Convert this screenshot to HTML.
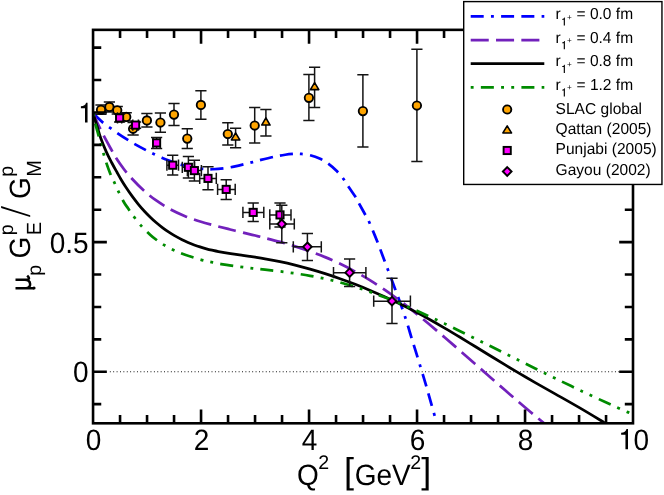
<!DOCTYPE html>
<html><head><meta charset="utf-8"><title>chart</title>
<style>html,body{margin:0;padding:0;background:#fff;}body{width:664px;height:495px;overflow:hidden;position:relative;font-family:"Liberation Sans",sans-serif;}</style></head>
<body>
<svg width="664" height="495" viewBox="0 0 664 495" style="position:absolute;left:0;top:0;will-change:transform">
<rect x="0" y="0" width="664" height="495" fill="#fff"/>
<defs><clipPath id="pc"><rect x="93.05" y="29.85" width="539.95" height="393.45"/></clipPath></defs>
<line x1="109.85" y1="371.75" x2="633.00" y2="371.75" stroke="#000" stroke-width="1" stroke-dasharray="0.9 2.49"/>
<g clip-path="url(#pc)" fill="none" stroke-linecap="butt" stroke-linejoin="round">
<path d="M93.05 112.80 C93.88 113.67 96.29 116.32 98.00 118.00 C99.71 119.68 101.27 121.26 103.30 122.90 C105.33 124.54 107.87 126.17 110.20 127.86 C112.53 129.55 114.27 130.97 117.30 133.04 C120.33 135.11 125.63 138.55 128.40 140.31 C131.17 142.07 130.92 141.93 133.90 143.60 C136.88 145.27 143.00 148.61 146.30 150.35 C149.60 152.09 151.27 152.86 153.70 154.02 C156.13 155.18 158.48 156.26 160.90 157.31 C163.32 158.36 164.72 159.05 168.20 160.32 C171.68 161.59 177.33 163.65 181.80 164.92 C186.27 166.19 191.13 167.23 195.00 167.92 C198.87 168.61 202.08 168.86 205.00 169.08 C207.92 169.30 209.37 169.37 212.50 169.25 C215.63 169.13 220.03 168.83 223.80 168.35 C227.57 167.87 231.55 167.10 235.10 166.38 C238.65 165.66 242.17 164.76 245.10 164.04 C248.03 163.32 250.07 162.77 252.70 162.08 C255.33 161.39 257.17 160.84 260.90 159.92 C264.63 158.99 271.05 157.39 275.10 156.53 C279.15 155.67 281.85 155.19 285.20 154.74 C288.55 154.29 292.50 153.98 295.20 153.85 C297.90 153.72 298.90 153.72 301.40 153.96 C303.90 154.20 307.07 154.45 310.20 155.27 C313.33 156.09 317.28 157.52 320.20 158.86 C323.12 160.20 324.98 161.32 327.70 163.32 C330.42 165.32 333.85 168.22 336.50 170.85 C339.15 173.48 341.60 176.46 343.60 179.10 C345.60 181.74 346.37 183.50 348.50 186.70 C350.63 189.90 354.63 195.48 356.40 198.30 C358.17 201.12 357.50 200.65 359.10 203.60 C360.70 206.55 364.27 212.82 366.00 216.00 C367.73 219.18 367.55 218.27 369.50 222.70 C371.45 227.13 375.08 235.95 377.70 242.60 C380.32 249.25 382.70 255.93 385.20 262.60 C387.70 269.27 390.20 275.92 392.70 282.60 C395.20 289.28 397.93 296.37 400.20 302.70 C402.47 309.03 404.45 314.87 406.30 320.60 C408.15 326.33 409.63 331.68 411.30 337.10 C412.97 342.52 414.63 347.68 416.30 353.10 C417.97 358.52 419.63 364.08 421.30 369.60 C422.97 375.12 424.63 380.48 426.30 386.20 C427.97 391.92 429.52 397.60 431.30 403.90 C433.08 410.20 436.05 420.65 437.00 424.00" stroke="#0000ff" stroke-width="2.75" stroke-dasharray="13.00 7.25 2.90 7.25 13.00 7.25" stroke-dashoffset="-1.30"/>
<path d="M93.05 112.80 C93.71 114.33 95.26 118.25 97.00 122.00 C98.74 125.75 101.07 130.60 103.50 135.30 C105.93 140.00 109.60 146.57 111.60 150.20 C113.60 153.83 113.47 153.97 115.50 157.10 C117.53 160.23 121.17 165.51 123.80 169.00 C126.43 172.49 127.97 174.44 131.30 178.04 C134.63 181.64 139.83 186.97 143.80 190.59 C147.77 194.21 150.72 196.64 155.10 199.74 C159.48 202.84 165.10 206.43 170.10 209.17 C175.10 211.91 180.08 214.11 185.10 216.16 C190.12 218.21 195.18 219.87 200.20 221.45 C205.22 223.03 210.20 224.32 215.20 225.66 C220.20 227.00 225.20 228.22 230.20 229.46 C235.20 230.70 241.03 232.09 245.20 233.10 C249.37 234.11 251.90 234.72 255.20 235.53 C258.50 236.34 260.87 236.90 265.00 237.97 C269.13 239.04 274.98 240.53 280.00 241.93 C285.02 243.33 290.08 244.78 295.10 246.35 C300.12 247.92 305.10 249.55 310.10 251.35 C315.10 253.15 320.10 255.05 325.10 257.13 C330.10 259.21 335.08 261.44 340.10 263.85 C345.12 266.26 350.18 268.86 355.20 271.61 C360.22 274.36 365.20 277.26 370.20 280.35 C375.20 283.44 380.20 286.70 385.20 290.14 C390.20 293.58 395.22 297.23 400.20 300.98 C405.18 304.73 410.12 308.62 415.10 312.62 C420.08 316.62 425.10 320.79 430.10 324.98 C435.10 329.17 440.10 333.47 445.10 337.77 C450.10 342.07 455.08 346.42 460.10 350.80 C465.12 355.18 470.18 359.64 475.20 364.04 C480.22 368.44 485.20 372.83 490.20 377.21 C495.20 381.59 500.20 385.97 505.20 390.31 C510.20 394.65 513.97 397.97 520.20 403.26 C526.43 408.55 538.30 418.47 542.60 422.07 C546.90 425.67 545.43 424.39 546.00 424.86" stroke="#7221bc" stroke-width="2.75" stroke-dasharray="18.05 7.27" stroke-dashoffset="0.00"/>
<path d="M93.05 112.80 C93.38 113.92 94.33 117.27 95.00 119.50 C95.67 121.73 96.15 123.12 97.10 126.20 C98.05 129.28 99.18 133.77 100.70 138.00 C102.22 142.23 104.38 147.52 106.20 151.60 C108.02 155.68 109.78 159.02 111.60 162.50 C113.42 165.98 115.50 169.63 117.10 172.50 C118.70 175.37 119.70 177.20 121.20 179.69 C122.70 182.18 124.28 184.72 126.10 187.46 C127.92 190.20 130.08 193.36 132.10 196.12 C134.12 198.88 136.18 201.55 138.20 204.02 C140.22 206.49 142.18 208.76 144.20 210.96 C146.22 213.16 148.27 215.27 150.30 217.24 C152.33 219.21 154.38 221.07 156.40 222.80 C158.42 224.53 160.38 226.10 162.40 227.63 C164.42 229.16 166.48 230.61 168.50 231.95 C170.52 233.29 172.23 234.38 174.50 235.68 C176.77 236.98 179.85 238.63 182.10 239.76 C184.35 240.89 185.98 241.61 188.00 242.47 C190.02 243.33 192.20 244.20 194.20 244.94 C196.20 245.68 197.97 246.28 200.00 246.92 C202.03 247.56 204.40 248.25 206.40 248.80 C208.40 249.35 209.98 249.73 212.00 250.20 C214.02 250.66 215.40 251.01 218.50 251.59 C221.60 252.17 226.57 253.03 230.60 253.67 C234.63 254.30 239.47 254.94 242.70 255.40 C245.93 255.86 247.92 256.12 250.00 256.42 C252.08 256.72 252.70 256.79 255.20 257.18 C257.70 257.57 260.87 258.04 265.00 258.79 C269.13 259.54 274.98 260.63 280.00 261.70 C285.02 262.76 290.08 263.94 295.10 265.18 C300.12 266.42 305.10 267.74 310.10 269.16 C315.10 270.58 320.10 272.09 325.10 273.68 C330.10 275.27 335.08 276.95 340.10 278.72 C345.12 280.49 350.18 282.37 355.20 284.32 C360.22 286.27 365.20 288.29 370.20 290.40 C375.20 292.51 380.20 294.71 385.20 296.99 C390.20 299.27 395.22 301.65 400.20 304.09 C405.18 306.53 410.12 309.04 415.10 311.65 C420.08 314.26 425.10 316.97 430.10 319.75 C435.10 322.53 440.10 325.41 445.10 328.33 C450.10 331.25 455.08 334.24 460.10 337.27 C465.12 340.30 470.18 343.42 475.20 346.49 C480.22 349.56 485.20 352.65 490.20 355.72 C495.20 358.79 500.20 361.87 505.20 364.90 C510.20 367.93 515.20 370.94 520.20 373.88 C525.20 376.82 529.38 379.24 535.20 382.57 C541.02 385.90 547.60 389.58 555.10 393.84 C562.60 398.10 572.07 403.40 580.20 408.15 C588.33 412.90 599.27 419.56 603.90 422.35 C608.53 425.15 607.32 424.49 608.00 424.92" stroke="#000000" stroke-width="2.75"/>
<path d="M93.05 112.80 C93.42 114.58 94.39 119.75 95.30 123.50 C96.21 127.25 97.60 131.97 98.50 135.30 C99.40 138.63 99.87 140.47 100.70 143.50 C101.53 146.53 102.58 150.33 103.50 153.50 C104.42 156.67 105.08 159.17 106.20 162.50 C107.32 165.83 108.83 170.15 110.20 173.50 C111.57 176.85 113.02 179.58 114.40 182.60 C115.78 185.62 116.93 188.37 118.50 191.60 C120.07 194.83 122.22 199.22 123.80 202.00 C125.38 204.78 126.53 206.10 128.00 208.27 C129.47 210.44 130.38 212.08 132.60 215.01 C134.82 217.94 138.38 222.57 141.30 225.84 C144.22 229.11 147.60 232.32 150.10 234.64 C152.60 236.95 154.00 238.02 156.30 239.73 C158.60 241.44 160.97 243.15 163.90 244.90 C166.83 246.65 170.37 248.60 173.90 250.25 C177.43 251.90 180.72 253.27 185.10 254.81 C189.48 256.35 195.60 258.23 200.20 259.50 C204.80 260.77 208.32 261.53 212.70 262.43 C217.08 263.33 221.92 264.18 226.50 264.91 C231.08 265.64 235.83 266.25 240.20 266.82 C244.57 267.38 248.57 267.82 252.70 268.30 C256.83 268.78 260.45 269.15 265.00 269.67 C269.55 270.19 274.98 270.79 280.00 271.41 C285.02 272.03 290.08 272.67 295.10 273.40 C300.12 274.13 305.10 274.90 310.10 275.79 C315.10 276.68 320.10 277.65 325.10 278.76 C330.10 279.87 335.08 281.11 340.10 282.47 C345.12 283.83 350.18 285.32 355.20 286.90 C360.22 288.47 365.20 290.15 370.20 291.92 C375.20 293.69 380.20 295.56 385.20 297.50 C390.20 299.44 395.22 301.48 400.20 303.56 C405.18 305.64 410.12 307.78 415.10 309.99 C420.08 312.20 425.10 314.49 430.10 316.80 C435.10 319.11 440.10 321.48 445.10 323.87 C450.10 326.26 455.08 328.69 460.10 331.15 C465.12 333.60 470.18 336.12 475.20 338.60 C480.22 341.09 485.20 343.57 490.20 346.06 C495.20 348.55 500.20 351.06 505.20 353.55 C510.20 356.05 515.20 358.54 520.20 361.03 C525.20 363.52 529.38 365.61 535.20 368.49 C541.02 371.37 547.60 374.64 555.10 378.29 C562.60 381.94 571.85 386.44 580.20 390.40 C588.55 394.36 598.95 399.18 605.20 402.07 C611.45 404.96 613.95 406.04 617.70 407.72 C621.45 409.40 625.15 411.01 627.70 412.13 C630.25 413.25 632.12 414.05 633.00 414.43" stroke="#008b00" stroke-width="2.75" stroke-dasharray="2.90 7.25 13.00 7.25 2.90 7.25" stroke-dashoffset="-0.90"/>
</g>
<g fill="none" stroke="#141414" stroke-width="1.50">
<path d="M101.00 104.90 V114.25 M95.40 104.90 H106.60 M95.40 114.25 H106.60" />
<path d="M109.40 101.90 V111.90 M103.80 101.90 H115.00 M103.80 111.90 H115.00" />
<path d="M117.25 106.50 V114.00 M111.65 106.50 H122.85 M111.65 114.00 H122.85" />
<path d="M126.25 112.75 V121.00 M120.65 112.75 H131.85 M120.65 121.00 H131.85" />
<path d="M133.10 122.50 V135.00 M127.50 122.50 H138.70 M127.50 135.00 H138.70" />
<path d="M146.90 113.50 V126.90 M141.30 113.50 H152.50 M141.30 126.90 H152.50" />
<path d="M160.40 112.90 V132.25 M154.80 112.90 H166.00 M154.80 132.25 H166.00" />
<path d="M174.00 103.40 V125.60 M168.40 103.40 H179.60 M168.40 125.60 H179.60" />
<path d="M187.25 128.75 V148.40 M181.65 128.75 H192.85 M181.65 148.40 H192.85" />
<path d="M200.90 90.80 V119.30 M195.30 90.80 H206.50 M195.30 119.30 H206.50" />
<path d="M227.80 122.80 V144.90 M222.20 122.80 H233.40 M222.20 144.90 H233.40" />
<path d="M254.70 107.60 V143.10 M249.10 107.60 H260.30 M249.10 143.10 H260.30" />
<path d="M308.90 74.50 V120.50 M303.30 74.50 H314.50 M303.30 120.50 H314.50" />
<path d="M362.90 74.70 V147.00 M357.30 74.70 H368.50 M357.30 147.00 H368.50" />
<path d="M416.90 49.20 V161.40 M411.30 49.20 H422.50 M411.30 161.40 H422.50" />
</g>
<circle cx="101.00" cy="109.75" r="4.20" fill="#ffa500" stroke="#000" stroke-width="1.85"/>
<circle cx="109.40" cy="106.90" r="4.20" fill="#ffa500" stroke="#000" stroke-width="1.85"/>
<circle cx="117.25" cy="110.25" r="4.20" fill="#ffa500" stroke="#000" stroke-width="1.85"/>
<circle cx="126.25" cy="116.90" r="4.20" fill="#ffa500" stroke="#000" stroke-width="1.85"/>
<circle cx="133.10" cy="128.75" r="4.20" fill="#ffa500" stroke="#000" stroke-width="1.85"/>
<circle cx="146.90" cy="120.40" r="4.20" fill="#ffa500" stroke="#000" stroke-width="1.85"/>
<circle cx="160.40" cy="122.50" r="4.20" fill="#ffa500" stroke="#000" stroke-width="1.85"/>
<circle cx="174.00" cy="114.60" r="4.20" fill="#ffa500" stroke="#000" stroke-width="1.85"/>
<circle cx="187.25" cy="138.60" r="4.20" fill="#ffa500" stroke="#000" stroke-width="1.85"/>
<circle cx="200.90" cy="104.90" r="4.20" fill="#ffa500" stroke="#000" stroke-width="1.85"/>
<circle cx="227.80" cy="134.00" r="4.20" fill="#ffa500" stroke="#000" stroke-width="1.85"/>
<circle cx="254.70" cy="125.50" r="4.20" fill="#ffa500" stroke="#000" stroke-width="1.85"/>
<circle cx="308.90" cy="97.80" r="4.20" fill="#ffa500" stroke="#000" stroke-width="1.85"/>
<circle cx="362.90" cy="111.10" r="4.20" fill="#ffa500" stroke="#000" stroke-width="1.85"/>
<circle cx="416.90" cy="105.50" r="4.20" fill="#ffa500" stroke="#000" stroke-width="1.85"/>
<g fill="none" stroke="#141414" stroke-width="1.50">
<path d="M235.60 128.20 V147.80 M230.00 128.20 H241.20 M230.00 147.80 H241.20" />
<path d="M265.90 109.50 V136.00 M260.30 109.50 H271.50 M260.30 136.00 H271.50" />
<path d="M314.60 67.30 V107.40 M309.00 67.30 H320.20 M309.00 107.40 H320.20" />
</g>
<path d="M235.60 132.85 L239.80 139.95 L231.40 139.95 Z" fill="#ffa500" stroke="#000" stroke-width="1.60" stroke-linejoin="round"/>
<path d="M265.90 117.95 L270.10 125.05 L261.70 125.05 Z" fill="#ffa500" stroke="#000" stroke-width="1.60" stroke-linejoin="round"/>
<path d="M314.60 82.55 L318.80 89.65 L310.40 89.65 Z" fill="#ffa500" stroke="#000" stroke-width="1.60" stroke-linejoin="round"/>
<g fill="none" stroke="#141414" stroke-width="1.50">
<path d="M117.50 117.90 H121.70 M117.50 112.30 V123.50 M121.70 112.30 V123.50" />
<path d="M119.60 114.00 V121.90 M114.00 114.00 H125.20 M114.00 121.90 H125.20" />
<path d="M132.80 125.10 H138.40 M132.80 119.50 V130.70 M138.40 119.50 V130.70" />
<path d="M135.60 121.90 V128.30 M130.00 121.90 H141.20 M130.00 128.30 H141.20" />
<path d="M153.00 142.90 H160.20 M153.00 137.30 V148.50 M160.20 137.30 V148.50" />
<path d="M156.60 137.50 V148.60 M151.00 137.50 H162.20 M151.00 148.60 H162.20" />
<path d="M166.90 165.20 H178.50 M166.90 159.60 V170.80 M178.50 159.60 V170.80" />
<path d="M172.70 155.20 V175.10 M167.10 155.20 H178.30 M167.10 175.10 H178.30" />
<path d="M182.30 167.30 H194.50 M182.30 161.70 V172.90 M194.50 161.70 V172.90" />
<path d="M188.40 156.60 V178.10 M182.80 156.60 H194.00 M182.80 178.10 H194.00" />
<path d="M187.40 170.60 H201.40 M187.40 165.00 V176.20 M201.40 165.00 V176.20" />
<path d="M194.40 160.20 V180.90 M188.80 160.20 H200.00 M188.80 180.90 H200.00" />
<path d="M199.70 178.40 H216.30 M199.70 172.80 V184.00 M216.30 172.80 V184.00" />
<path d="M208.00 166.80 V189.70 M202.40 166.80 H213.60 M202.40 189.70 H213.60" />
<path d="M217.60 189.40 H235.20 M217.60 183.80 V195.00 M235.20 183.80 V195.00" />
<path d="M226.20 179.80 V199.40 M220.60 179.80 H231.80 M220.60 199.40 H231.80" />
<path d="M242.90 212.40 H263.80 M242.90 206.80 V218.00 M263.80 206.80 V218.00" />
<path d="M253.20 203.10 V221.60 M247.60 203.10 H258.80 M247.60 221.60 H258.80" />
<path d="M269.80 214.90 H291.00 M269.80 209.30 V220.50 M291.00 209.30 V220.50" />
<path d="M280.00 202.90 V226.90 M274.40 202.90 H285.60 M274.40 226.90 H285.60" />
</g>
<rect x="116.00" y="114.30" width="7.20" height="7.20" fill="#ff00ff" stroke="#000" stroke-width="1.90"/>
<rect x="132.00" y="121.50" width="7.20" height="7.20" fill="#ff00ff" stroke="#000" stroke-width="1.90"/>
<rect x="153.00" y="139.30" width="7.20" height="7.20" fill="#ff00ff" stroke="#000" stroke-width="1.90"/>
<rect x="169.10" y="161.60" width="7.20" height="7.20" fill="#ff00ff" stroke="#000" stroke-width="1.90"/>
<rect x="184.80" y="163.70" width="7.20" height="7.20" fill="#ff00ff" stroke="#000" stroke-width="1.90"/>
<rect x="190.80" y="167.00" width="7.20" height="7.20" fill="#ff00ff" stroke="#000" stroke-width="1.90"/>
<rect x="204.40" y="174.80" width="7.20" height="7.20" fill="#ff00ff" stroke="#000" stroke-width="1.90"/>
<rect x="222.60" y="185.80" width="7.20" height="7.20" fill="#ff00ff" stroke="#000" stroke-width="1.90"/>
<rect x="249.60" y="208.80" width="7.20" height="7.20" fill="#ff00ff" stroke="#000" stroke-width="1.90"/>
<rect x="276.40" y="211.30" width="7.20" height="7.20" fill="#ff00ff" stroke="#000" stroke-width="1.90"/>
<g fill="none" stroke="#141414" stroke-width="1.50">
<path d="M269.80 224.00 H294.30 M269.80 218.40 V229.60 M294.30 218.40 V229.60" />
<path d="M281.80 205.20 V242.70 M276.20 205.20 H287.40 M276.20 242.70 H287.40" />
<path d="M293.30 246.80 H321.30 M293.30 241.20 V252.40 M321.30 241.20 V252.40" />
<path d="M307.40 233.60 V260.40 M301.80 233.60 H313.00 M301.80 260.40 H313.00" />
<path d="M333.50 272.70 H365.90 M333.50 267.10 V278.30 M365.90 267.10 V278.30" />
<path d="M349.60 259.00 V286.50 M344.00 259.00 H355.20 M344.00 286.50 H355.20" />
<path d="M373.70 301.20 H410.40 M373.70 295.60 V306.80 M410.40 295.60 V306.80" />
<path d="M392.00 278.20 V323.50 M386.40 278.20 H397.60 M386.40 323.50 H397.60" />
</g>
<path d="M281.80 219.70 L286.10 224.00 L281.80 228.30 L277.50 224.00 Z" fill="#ff00ff" stroke="#000" stroke-width="1.90"/>
<path d="M307.40 242.50 L311.70 246.80 L307.40 251.10 L303.10 246.80 Z" fill="#ff00ff" stroke="#000" stroke-width="1.90"/>
<path d="M349.60 268.40 L353.90 272.70 L349.60 277.00 L345.30 272.70 Z" fill="#ff00ff" stroke="#000" stroke-width="1.90"/>
<path d="M392.00 296.90 L396.30 301.20 L392.00 305.50 L387.70 301.20 Z" fill="#ff00ff" stroke="#000" stroke-width="1.90"/>
<g stroke="#000" stroke-width="2.60" fill="none" stroke-linecap="butt">
<rect x="93.05" y="29.85" width="539.95" height="393.45"/>
<path d="M120.05 423.30 v-8.20 M120.05 29.85 v8.20 M147.05 423.30 v-8.20 M147.05 29.85 v8.20 M174.05 423.30 v-8.20 M174.05 29.85 v8.20 M201.05 423.30 v-13.80 M201.05 29.85 v13.80 M228.05 423.30 v-8.20 M228.05 29.85 v8.20 M255.05 423.30 v-8.20 M255.05 29.85 v8.20 M282.05 423.30 v-8.20 M282.05 29.85 v8.20 M309.05 423.30 v-13.80 M309.05 29.85 v13.80 M336.05 423.30 v-8.20 M336.05 29.85 v8.20 M363.05 423.30 v-8.20 M363.05 29.85 v8.20 M390.05 423.30 v-8.20 M390.05 29.85 v8.20 M417.05 423.30 v-13.80 M417.05 29.85 v13.80 M444.05 423.30 v-8.20 M444.05 29.85 v8.20 M471.05 423.30 v-8.20 M471.05 29.85 v8.20 M498.05 423.30 v-8.20 M498.05 29.85 v8.20 M525.05 423.30 v-13.80 M525.05 29.85 v13.80 M552.05 423.30 v-8.20 M552.05 29.85 v8.20 M579.05 423.30 v-8.20 M579.05 29.85 v8.20 M606.05 423.30 v-8.20 M606.05 29.85 v8.20 M93.05 404.16 h8.20 M633.00 404.16 h-8.20 M93.05 371.75 h13.80 M633.00 371.75 h-13.80 M93.05 339.34 h8.20 M633.00 339.34 h-8.20 M93.05 306.93 h8.20 M633.00 306.93 h-8.20 M93.05 274.51 h8.20 M633.00 274.51 h-8.20 M93.05 242.10 h13.80 M633.00 242.10 h-13.80 M93.05 209.69 h8.20 M633.00 209.69 h-8.20 M93.05 177.27 h8.20 M633.00 177.27 h-8.20 M93.05 144.86 h8.20 M633.00 144.86 h-8.20 M93.05 112.45 h13.80 M633.00 112.45 h-13.80 M93.05 80.04 h8.20 M633.00 80.04 h-8.20 M93.05 47.62 h8.20 M633.00 47.62 h-8.20 "/>
</g>
<g font-family="'Liberation Sans', sans-serif" fill="#000" text-rendering="geometricPrecision">
<text transform="translate(93.45 449.60) scale(1.000 1.050)" font-size="28.00" text-anchor="middle">0</text>
<text transform="translate(201.45 449.60) scale(1.000 1.050)" font-size="28.00" text-anchor="middle">2</text>
<text transform="translate(309.45 449.60) scale(1.000 1.050)" font-size="28.00" text-anchor="middle">4</text>
<text transform="translate(417.45 449.60) scale(1.000 1.050)" font-size="28.00" text-anchor="middle">6</text>
<text transform="translate(525.45 449.60) scale(1.000 1.050)" font-size="28.00" text-anchor="middle">8</text>
<text transform="translate(633.50 449.60) scale(1.000 1.050)" font-size="28.00">0</text>
<path d="M628.00 449.30 V429.00 H626.48 C626.07 431.33 623.94 432.55 621.15 432.70 V434.63 H625.45 V449.30 Z" fill="#000"/>
<text transform="translate(88.60 382.25) scale(1.000 1.050)" font-size="28.00" text-anchor="end">0</text>
<text transform="translate(88.60 252.60) scale(1.000 1.050)" font-size="28.00" text-anchor="end">0.5</text>
<path d="M87.55 122.45 V102.75 H86.07 C85.68 105.02 83.61 106.20 80.90 106.35 V108.22 H85.00 V122.45 Z" fill="#000"/>
<text transform="translate(297.00 485.30) scale(1.000 1.050)" font-size="28.00">Q</text>
<text transform="translate(318.20 469.30) scale(1.000 1.000)" font-size="19.60">2</text>
<text transform="translate(343.90 483.40) scale(1.000 1.000)" font-size="36.00">[</text>
<text transform="translate(354.70 485.30) scale(1.000 1.050)" font-size="28.00">GeV</text>
<text transform="translate(410.20 469.30) scale(1.000 1.000)" font-size="19.60">2</text>
<text transform="translate(421.30 483.40) scale(1.000 1.000)" font-size="36.00">]</text>
<g transform="translate(30.4 292) rotate(-90)">
<path d="M3.7 -14.9 V3.6 M3.7 -4.5 C3.9 1.4 12.0 1.2 12.2 -5.5 M12.2 -14.9 V-4.6 C12.2 -1.2 13.6 -0.2 16.4 -3.2" fill="none" stroke="#000" stroke-width="2.5"/>
<ellipse cx="3.9" cy="3.6" rx="1.5" ry="1.6" fill="#000"/>
<text transform="translate(16.30 10.70) scale(1.000 1.000)" font-size="19.60">p</text>
<text transform="translate(33.60 0.00) scale(1.000 1.050)" font-size="28.00">G</text>
<text transform="translate(56.80 10.20) scale(1.000 1.030)" font-size="19.90">E</text>
<text transform="translate(56.80 -17.30) scale(1.000 1.000)" font-size="19.60">p</text>
<text transform="translate(93.00 0.00) scale(1.000 1.050)" font-size="28.00">G</text>
<text transform="translate(115.20 10.20) scale(1.000 1.030)" font-size="19.90">M</text>
<text transform="translate(115.20 -17.30) scale(1.000 1.000)" font-size="19.60">p</text>
</g>
<path d="M1.1 205.9 L1.1 207.9 L30.2 217.1 L30.2 215.2 Z" fill="#000"/>
</g>
</g>
<rect x="463.70" y="1.60" width="198.25" height="182.85" fill="#fff" stroke="#000" stroke-width="1.4"/>
<g fill="none" stroke-linecap="butt">
<path d="M470.7 16.40 H544.3" stroke="#0000ff" stroke-width="2.75" stroke-dasharray="13.00 7.25 2.90 7.25 13.00 7.25"/>
<path d="M470.7 40.00 H544.3" stroke="#7221bc" stroke-width="2.75" stroke-dasharray="18.05 7.27"/>
<path d="M470.7 63.70 H544.3" stroke="#000000" stroke-width="2.75"/>
<path d="M470.7 87.40 H544.3" stroke="#008b00" stroke-width="2.75" stroke-dasharray="2.90 7.25 13.00 7.25 2.90 7.25"/>
</g>
<g font-family="'Liberation Sans', sans-serif" fill="#000" text-rendering="geometricPrecision">
<text transform="translate(555.50 19.00) scale(1.000 1.020)" font-size="15.55">r</text>
<path d="M564.90 25.60 V17.50 H564.29 C564.13 18.43 563.28 18.92 562.17 18.98 V19.75 H563.75 V25.60 Z" fill="#000"/>
<text transform="translate(567.00 19.50) scale(1.000 1.020)" font-size="8.20">+</text>
<text transform="translate(576.50 19.00) scale(1.000 1.020)" font-size="15.55">= 0.0 fm</text>
<text transform="translate(555.50 42.60) scale(1.000 1.020)" font-size="15.55">r</text>
<path d="M564.90 49.20 V41.10 H564.29 C564.13 42.03 563.28 42.52 562.17 42.58 V43.35 H563.75 V49.20 Z" fill="#000"/>
<text transform="translate(567.00 43.10) scale(1.000 1.020)" font-size="8.20">+</text>
<text transform="translate(576.50 42.60) scale(1.000 1.020)" font-size="15.55">= 0.4 fm</text>
<text transform="translate(555.50 66.30) scale(1.000 1.020)" font-size="15.55">r</text>
<path d="M564.90 72.90 V64.80 H564.29 C564.13 65.73 563.28 66.22 562.17 66.28 V67.05 H563.75 V72.90 Z" fill="#000"/>
<text transform="translate(567.00 66.80) scale(1.000 1.020)" font-size="8.20">+</text>
<text transform="translate(576.50 66.30) scale(1.000 1.020)" font-size="15.55">= 0.8 fm</text>
<text transform="translate(555.50 89.80) scale(1.000 1.020)" font-size="15.55">r</text>
<path d="M564.90 96.40 V88.30 H564.29 C564.13 89.23 563.28 89.72 562.17 89.78 V90.55 H563.75 V96.40 Z" fill="#000"/>
<text transform="translate(567.00 90.30) scale(1.000 1.020)" font-size="8.20">+</text>
<text transform="translate(576.50 89.80) scale(1.000 1.020)" font-size="15.55">= 1.2 fm</text>
<text transform="translate(555.60 113.50) scale(1.000 1.020)" font-size="15.55">SLAC global</text>
<text transform="translate(555.60 133.90) scale(1.000 1.020)" font-size="15.55">Qattan (2005)</text>
<text transform="translate(555.60 154.30) scale(1.000 1.020)" font-size="15.55">Punjabi (2005)</text>
<text transform="translate(555.60 174.70) scale(1.000 1.020)" font-size="15.55">Gayou (2002)</text>
</g>
<circle cx="507.20" cy="109.50" r="4.15" fill="#ffa500" stroke="#000" stroke-width="1.85"/>
<path d="M507.20 125.85 L511.50 132.95 L502.90 132.95 Z" fill="#ffa500" stroke="#000" stroke-width="1.60" stroke-linejoin="round"/>
<rect x="503.60" y="146.90" width="7.20" height="7.20" fill="#ff00ff" stroke="#000" stroke-width="1.90"/>
<path d="M507.20 167.15 L511.55 171.50 L507.20 175.85 L502.85 171.50 Z" fill="#ff00ff" stroke="#000" stroke-width="1.90"/>
</svg>
</body></html>
